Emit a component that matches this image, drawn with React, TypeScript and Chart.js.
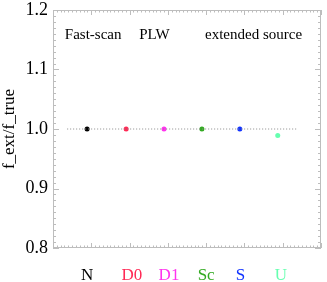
import React, { useEffect, useRef } from "react";
import { Chart, registerables } from "chart.js";

Chart.register(...registerables);

const categories = ["N", "D0", "D1", "Sc", "S", "U"];
const categoryColors = ["#000000", "#ff2a55", "#ff33ee", "#33aa22", "#1133ff", "#66ffb0"];
const pointX = [0.89, 1.91, 2.9, 3.89, 4.88, 5.87];
const ratioValues = [1.0, 1.0, 1.0, 1.0, 1.0, 0.989];
const labelX = [0.89, 2.06, 3.03, 4.0, 4.9, 5.95];
const yTicks = [0.8, 0.9, 1.0, 1.1, 1.2];
const refLineX = [0.37, 6.4];
const refLineY = 1.0;
const annotations = [
  { text: "Fast-scan", x: 0.31, y: 1.158 },
  { text: "PLW", x: 2.25, y: 1.158 },
  { text: "extended source", x: 3.97, y: 1.158 },
];

const SERIF = "'Liberation Serif', 'DejaVu Serif', serif";

const framePlugin = {
  id: "frame",
  beforeDatasetsDraw(chart: any) {
    const { ctx, chartArea: a, scales } = chart;
    const xs = scales.x;
    const ys = scales.y;
    ctx.save();
    ctx.strokeStyle = "#bdbdbd";
    ctx.lineWidth = 1;
    ctx.strokeRect(a.left + 0.5, a.top + 0.5, a.right - a.left - 1, a.bottom - a.top - 1);
    ctx.beginPath();
    for (let i = 0; i <= 70; i++) {
      const v = i / 10;
      const px = Math.round(xs.getPixelForValue(v)) + 0.5;
      const len = i % 10 === 0 ? 5 : 2.5;
      ctx.moveTo(px, a.bottom);
      ctx.lineTo(px, a.bottom - len);
      ctx.moveTo(px, a.top);
      ctx.lineTo(px, a.top + len);
    }
    for (let i = 0; i <= 40; i++) {
      const v = 0.8 + i / 100;
      const py = Math.round(ys.getPixelForValue(v)) + 0.5;
      const len = i % 10 === 0 ? 6 : 3;
      ctx.moveTo(a.left, py);
      ctx.lineTo(a.left + len, py);
      ctx.moveTo(a.right, py);
      ctx.lineTo(a.right - len, py);
    }
    ctx.stroke();
    ctx.fillStyle = "#000";
    ctx.font = `15px ${SERIF}`;
    ctx.textBaseline = "middle";
    ctx.textAlign = "left";
    annotations.forEach((t) => {
      ctx.fillText(t.text, xs.getPixelForValue(t.x), ys.getPixelForValue(t.y));
    });
    ctx.restore();
  },
};

export default function App() {
  const ref = useRef<HTMLCanvasElement | null>(null);
  useEffect(() => {
    document.body.style.margin = "0";
    const chart = new Chart(ref.current as HTMLCanvasElement, {
      type: "scatter",
      data: {
        datasets: [
          {
            type: "line",
            data: refLineX.map((x) => ({ x, y: refLineY })),
            borderColor: "#8a8a8a",
            borderWidth: 1,
            borderDash: [1, 2],
            pointRadius: 0,
            fill: false,
          } as any,
          {
            data: pointX.map((x, i) => ({ x, y: ratioValues[i] })),
            pointBackgroundColor: categoryColors,
            pointBorderWidth: 0,
            pointRadius: 2.5,
          },
        ],
      },
      options: {
        responsive: false,
        animation: false,
        layout: { padding: { left: 0, right: 6, top: 10, bottom: 0 } },
        plugins: { legend: { display: false }, tooltip: { enabled: false } },
        scales: {
          x: {
            type: "linear",
            min: 0,
            max: 7,
            border: { display: false },
            grid: { display: false, drawTicks: false },
            afterBuildTicks: (s: any) => {
              s.ticks = labelX.map((v) => ({ value: v }));
            },
            afterFit: (s: any) => {
              s.height = 34;
              s.paddingLeft = 0;
              s.paddingRight = 0;
              s.paddingTop = 0;
              s.paddingBottom = 0;
            },
            ticks: {
              padding: 17,
              autoSkip: false,
              maxRotation: 0,
              font: { family: SERIF, size: 17 },
              color: (c: any) => categoryColors[c.index] ?? "#000",
              callback: (_v: any, i: number) => categories[i],
            },
          },
          y: {
            min: 0.8,
            max: 1.2,
            border: { display: false },
            grid: { display: false, drawTicks: false },
            afterBuildTicks: (s: any) => {
              s.ticks = yTicks.map((v) => ({ value: v }));
            },
            afterFit: (s: any) => {
              s.width = 53;
              s.paddingTop = 0;
              s.paddingBottom = 0;
              s.paddingLeft = 0;
              s.paddingRight = 0;
            },
            ticks: {
              padding: 5,
              color: "#000",
              font: { family: SERIF, size: 18 },
              callback: (v: any) => Number(v).toFixed(1),
            },
            title: {
              display: true,
              text: "f_ext/f_true",
              color: "#000",
              font: { family: SERIF, size: 17, lineHeight: 1.15 },
              padding: 0,
            },
          },
        },
      },
      plugins: [framePlugin],
    });
    return () => chart.destroy();
  }, []);
  return (
    <div style={{ position: "absolute", left: 0, top: 0, width: 327, height: 282, background: "#fff" }}>
      <canvas ref={ref} width={327} height={282} />
    </div>
  );
}
